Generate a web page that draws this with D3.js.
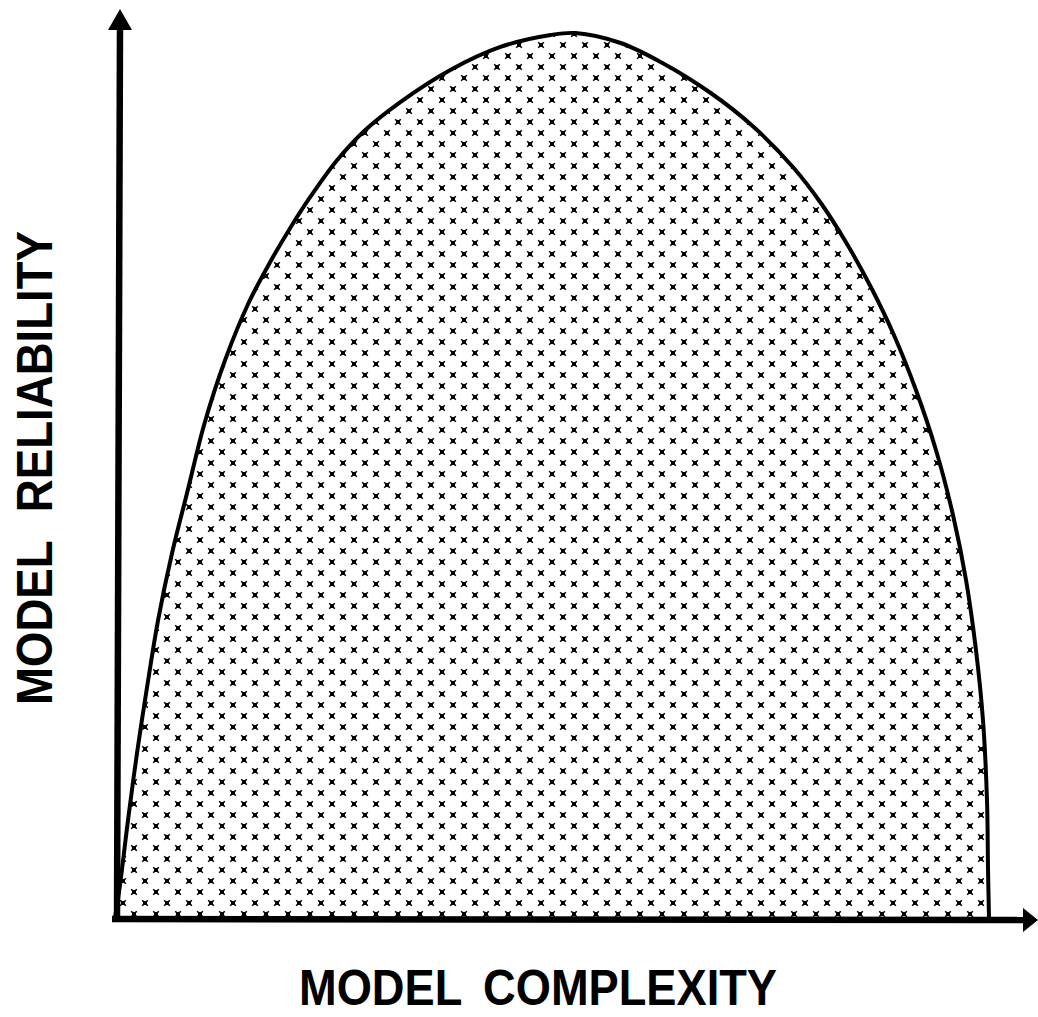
<!DOCTYPE html>
<html>
<head>
<meta charset="utf-8">
<script src="https://cdn.jsdelivr.net/npm/d3@7"></script>
<style>
  body { margin: 0; background: #fff; }
  svg { display: block; }
</style>
</head>
<body>
<script>
// model complexity (0..100) vs model reliability (0..100)
var complexity = [0, 0.57, 1.49, 2.52, 3.67, 4.93, 6.53, 8.36, 10.19, 12.60, 15.23, 17.75, 20.05, 22.34, 25.43, 28.64, 32.65, 38.37, 44.10, 49.83, 52.69,
  57.85, 62.43, 68.16, 73.08, 77.66, 80.76, 83.62, 86.48, 89.12, 91.64, 93.93, 95.88, 97.37, 98.51, 99.31, 99.77, 99.89, 100]
var reliability = [0, 3.73, 11.07, 18.64, 26.10, 33.67, 41.24, 48.47, 55.71, 63.05, 69.38, 74.12, 77.97, 81.47, 85.65, 89.04, 92.20, 95.82, 98.42, 99.77, 100,
  98.87, 96.72, 93.22, 89.38, 84.75, 80.79, 76.38, 71.30, 65.88, 59.66, 52.88, 45.54, 38.19, 30.28, 22.37, 13.33, 5.42, 0]
var xLabel = "MODEL COMPLEXITY"
var yLabel = "MODEL RELIABILITY"

var W = 1038, H = 1017
var svg = d3.select("body").append("svg")
  .attr("width", W)
  .attr("height", H)

var x = d3.scaleLinear().domain([0, 100]).range([115, 989])
var y = d3.scaleLinear().domain([0, 100]).range([918, 33])

var pts = complexity.map((c, i) => [c, reliability[i]])

// dotted fill pattern
var defs = svg.append("defs")
var pat = defs.append("pattern")
  .attr("id", "dots")
  .attr("patternUnits", "userSpaceOnUse")
  .attr("x", 8).attr("y", 18)
  .attr("width", 22).attr("height", 22)
;[[5, 5], [16, 16]].forEach(p => {
  pat.append("rect")
    .attr("x", p[0] - 2).attr("y", p[1] - 2)
    .attr("width", 4).attr("height", 4)
    .attr("fill", "#000")
  pat.append("path")
    .attr("d", `M${p[0]-2.8},${p[1]-2.8}L${p[0]+2.8},${p[1]+2.8}M${p[0]+2.8},${p[1]-2.8}L${p[0]-2.8},${p[1]+2.8}`)
    .attr("stroke", "#000").attr("stroke-width", 1.6)
})

var area = d3.area()
  .x(d => x(d[0]))
  .y0(y(0))
  .y1(d => y(d[1]))
  .curve(d3.curveCatmullRom.alpha(0.5))

var line = d3.line()
  .x(d => x(d[0]))
  .y(d => y(d[1]))
  .curve(d3.curveCatmullRom.alpha(0.5))

svg.append("path")
  .datum(pts)
  .attr("d", area)
  .attr("fill", "url(#dots)")

svg.append("path")
  .datum(pts)
  .attr("d", line)
  .attr("fill", "none")
  .attr("stroke", "#000")
  .attr("stroke-width", 4)

// axes with arrow heads
svg.append("line")
  .attr("x1", 117).attr("y1", 921)
  .attr("x2", 120).attr("y2", 26)
  .attr("stroke", "#000").attr("stroke-width", 6.5)
svg.append("path")
  .attr("d", "M120,9L132,30L108,30Z")
  .attr("fill", "#000")

svg.append("line")
  .attr("x1", 112).attr("y1", 919)
  .attr("x2", 1026).attr("y2", 920)
  .attr("stroke", "#000").attr("stroke-width", 6.5)
svg.append("path")
  .attr("d", "M1038,920L1023,908L1023,932Z")
  .attr("fill", "#000")

// labels
svg.append("text")
  .attr("x", 538).attr("y", 1005)
  .attr("text-anchor", "middle")
  .attr("font-family", "Liberation Sans, Arial, sans-serif")
  .attr("font-weight", "bold")
  .attr("font-size", 50)
  .attr("word-spacing", 10)
  .attr("textLength", 478)
  .attr("lengthAdjust", "spacingAndGlyphs")
  .text(xLabel)

svg.append("text")
  .attr("transform", "translate(52,468) rotate(-90)")
  .attr("text-anchor", "middle")
  .attr("font-family", "Liberation Sans, Arial, sans-serif")
  .attr("font-weight", "bold")
  .attr("font-size", 50)
  .attr("word-spacing", 18)
  .attr("textLength", 474)
  .attr("lengthAdjust", "spacingAndGlyphs")
  .text(yLabel)
</script>
</body>
</html>
